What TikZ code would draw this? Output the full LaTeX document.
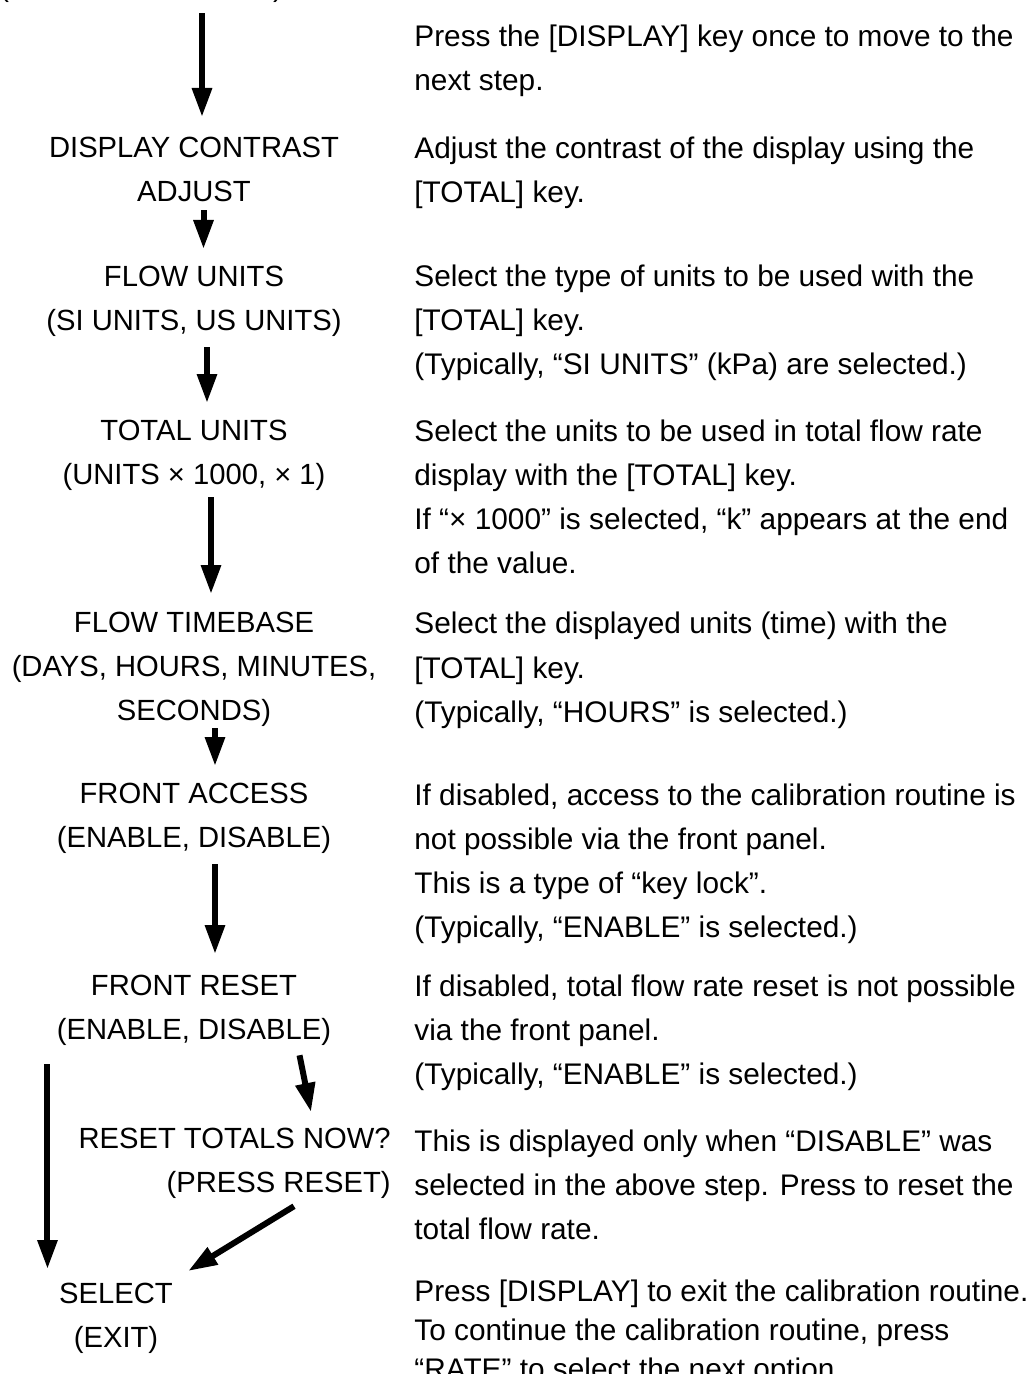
\documentclass[tikz,border=0pt]{standalone}
\usepackage{fontspec}
\setmainfont{Liberation Sans}
\usetikzlibrary{arrows.meta,calc}
\tikzset{
  steplabel/.style={font=\fontsize{14.6}{22}\selectfont,align=center,inner sep=0pt,anchor=north},
  notelabel/.style={font=\fontsize{14.9}{22}\selectfont,align=left,inner sep=0pt,anchor=north west},
  flowarrow/.style={-{Triangle[length=14.5pt,width=9.5pt]},line width=3pt},
}

\begin{document}
\begin{tikzpicture}[x=0.5pt,y=-0.5pt]
% Page in pixel units of the reference: 1034 x 1374.
\useasboundingbox (0,0) rectangle (1034,1374);

% Left column: menu steps, read from top to bottom.
\node[steplabel,anchor=base west] (prevstep) at (-1,-3) {(\hspace{132pt})};
\node[steplabel] (contrast) at (194,137) {DISPLAY CONTRAST\\ADJUST};
\node[steplabel] (flowunits) at (194,266) {FLOW UNITS\\(SI UNITS, US UNITS)};
\node[steplabel] (totalunits) at (194,420) {TOTAL UNITS\\(UNITS × 1000, × 1)};
\node[steplabel] (timebase) at (194,612) {FLOW TIMEBASE\\(DAYS, HOURS, MINUTES,\\SECONDS)};
\node[steplabel] (frontaccess) at (194,783) {FRONT ACCESS\\(ENABLE, DISABLE)};
\node[steplabel] (frontreset) at (194,975) {FRONT RESET\\(ENABLE, DISABLE)};
\node[steplabel,align=right,anchor=north east] (resettotals) at (391,1128) {RESET TOTALS NOW?\\(PRESS RESET)};
\node[steplabel] (select) at (116,1283) {SELECT\\(EXIT)};

\draw[flowarrow,shorten <=5pt,shorten >=10pt]
  ($(prevstep.south -| contrast.north)+(4pt,0)$) -- ($(contrast.north)+(4pt,0)$);
\draw[flowarrow,shorten <=4pt,shorten >=8.5pt]
  ($(contrast.south)+(4.75pt,0)$) -- ($(flowunits.north)+(4.75pt,0)$);
\draw[flowarrow,shorten <=5pt,shorten >=8.5pt]
  ($(flowunits.south)+(6.5pt,0)$) -- ($(totalunits.north)+(6.5pt,0)$);
\draw[flowarrow,shorten <=3pt,shorten >=9pt]
  ($(totalunits.south)+(8.5pt,0)$) -- ($(timebase.north)+(8.5pt,0)$);
\draw[flowarrow,shorten <=0.5pt,shorten >=8.5pt]
  ($(timebase.south)+(10.5pt,0)$) -- ($(frontaccess.north)+(10.5pt,0)$);
\draw[flowarrow,shorten <=5pt,shorten >=10.5pt]
  ($(frontaccess.south)+(10.5pt,0)$) -- ($(frontreset.north)+(10.5pt,0)$);

% Branch after FRONT RESET.
\draw[flowarrow]
  ($(frontreset.south west)+(-4.5pt,-9pt)$) -- ($(frontreset.south west |- select.north)+(-4.5pt,7pt)$);
\draw[flowarrow]
  ($(frontreset.south east)+(-16pt,-4.5pt)$) -- ($(resettotals.north east)+(-40pt,8pt)$);
\draw[flowarrow]
  ($(resettotals.south east)+(-48.5pt,-3.5pt)$) -- ($(select.north east)+(7.5pt,6pt)$);

% Right column: what each step does.
\node[notelabel] (note0) at (414,25) {Press the [DISPLAY] key once to move to the\\next step.};
\node[notelabel] (note1) at (414,137) {Adjust the contrast of the display using the\\{}[TOTAL] key.};
\node[notelabel] (note2) at (414,265) {Select the type of units to be used with the\\{}[TOTAL] key.\\(Typically, “SI UNITS” (kPa) are selected.)};
\node[notelabel] (note3) at (414,420) {Select the units to be used in total flow rate\\display with the [TOTAL] key.\\If “× 1000” is selected, “k” appears at the end\\of the value.};
\node[notelabel] (note4) at (414,612) {Select the displayed units (time) with the\\{}[TOTAL] key.\\(Typically, “HOURS” is selected.)};
\node[notelabel] (note5) at (414,783) {If disabled, access to the calibration routine is\\not possible via the front panel.\\This is a type of “key lock”.\\(Typically, “ENABLE” is selected.)};
\node[notelabel] (note6) at (414,974) {If disabled, total flow rate reset is not possible\\via the front panel.\\(Typically, “ENABLE” is selected.)};
\node[notelabel] (note7) at (414,1129) {This is displayed only when “DISABLE” was\\selected in the above step. Press to reset the\\total flow rate.};
\node[notelabel,font=\fontsize{14.9}{19.5}\selectfont] (note8) at (414,1279) {Press [DISPLAY] to exit the calibration routine.\\To continue the calibration routine, press\\“RATE” to select the next option.};
\end{tikzpicture}
\end{document}
